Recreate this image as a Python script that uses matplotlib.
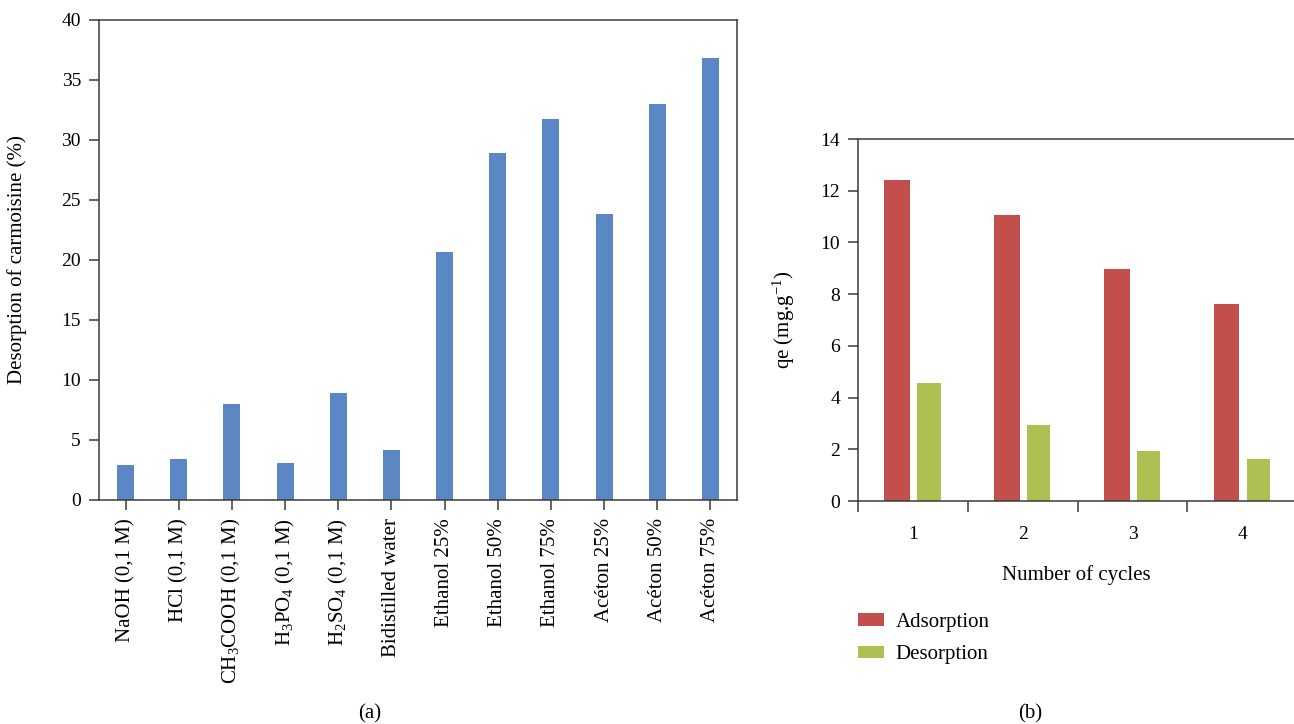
import matplotlib.pyplot as plt
import numpy as np

plt.rcParams['font.family'] = 'Liberation Serif'
plt.rcParams['mathtext.fontset'] = 'custom'
plt.rcParams['mathtext.rm'] = 'Liberation Serif'
plt.rcParams['mathtext.it'] = 'Liberation Serif:italic'

# (a) desorption of carmoisine by eluent
eluents = ["NaOH (0,1 M)", "HCl (0,1 M)", "CH$_3$COOH (0,1 M)", "H$_3$PO$_4$ (0,1 M)",
           "H$_2$SO$_4$ (0,1 M)", "Bidistilled water", "Ethanol 25%", "Ethanol 50%",
           "Ethanol 75%", "Acéton 25%", "Acéton 50%", "Acéton 75%"]
desorption_pct = [2.9, 3.4, 8.0, 3.1, 8.9, 4.2, 20.7, 28.9, 31.75, 23.8, 33.0, 36.8]

# (b) adsorption/desorption cycles
cycles = [1, 2, 3, 4]
adsorption = [12.4, 11.05, 8.97, 7.61]
desorption = [4.55, 2.93, 1.92, 1.61]

spine_col = '#3a3a3a'
fs_num = 14
fs = 15

fig = plt.figure(figsize=(12.94, 7.24), dpi=100)

# ---- left panel
ax1 = fig.add_axes([99 / 1294, 0.3094, 638 / 1294, 0.663])
x = np.arange(len(eluents))
ax1.bar(x, desorption_pct, 0.32, color='#5B88C4')
ax1.set_xlim(-0.5, len(eluents) - 0.5)
ax1.set_ylim(0, 40)
ax1.set_yticks(np.arange(0, 41, 5))
ax1.set_xticks(x, labels=eluents, rotation=90)
ax1.set_ylabel('Desorption of carmoisine (%)', fontsize=fs)
ax1.yaxis.set_label_coords(-0.113, 0.5)
for s in ax1.spines.values():
    s.set_color(spine_col)
    s.set_linewidth(1.1)
ax1.tick_params(direction='out', length=7, width=1.1, color=spine_col, pad=6)
ax1.tick_params(axis='y', labelsize=fs_num)
ax1.tick_params(axis='x', labelsize=fs)

# ---- right panel
ax2 = fig.add_axes([858 / 1294, 0.308, 436 / 1294, 0.5])
c = np.array(cycles)
ax2.bar(c - 0.145, adsorption, 0.235, color='#C34F4C', label='Adsorption')
ax2.bar(c + 0.145, desorption, 0.215, color='#ADC152', label='Desorption')
ax2.set_xlim(0.5, 4.47)
ax2.set_ylim(0, 14)
ax2.set_yticks(np.arange(0, 15, 2))
ax2.set_xticks(c, labels=[str(v) for v in cycles])
ax2.set_xticks(np.arange(0.5, 4.5, 1), minor=True)
ax2.tick_params(axis='x', which='major', length=0, pad=18, labelsize=fs_num)
ax2.tick_params(axis='x', which='minor', direction='out', length=8, width=1.1, color=spine_col)
ax2.tick_params(axis='y', direction='out', length=7, width=1.1, color=spine_col,
                labelsize=fs_num, pad=6)
ax2.spines['right'].set_visible(False)
for s in ax2.spines.values():
    s.set_color(spine_col)
    s.set_linewidth(1.1)
ax2.set_ylabel('qe (mg.g$^{-1}$)', fontsize=fs)
ax2.yaxis.set_label_coords(-0.14, 0.5)
ax2.set_xlabel('Number of cycles', fontsize=fs, labelpad=16)

fig.legend(loc='upper left', bbox_to_anchor=(850 / 1294, 0.165), frameon=False, fontsize=fs,
           handlelength=1.25, handleheight=0.55, handletextpad=0.55,
           labelspacing=0.65, borderaxespad=0)

fig.text(370 / 1294, 0.008, '(a)', fontsize=fs, ha='center')
fig.text(1030 / 1294, 0.008, '(b)', fontsize=fs, ha='center')

fig.savefig('out.png', dpi=100)
